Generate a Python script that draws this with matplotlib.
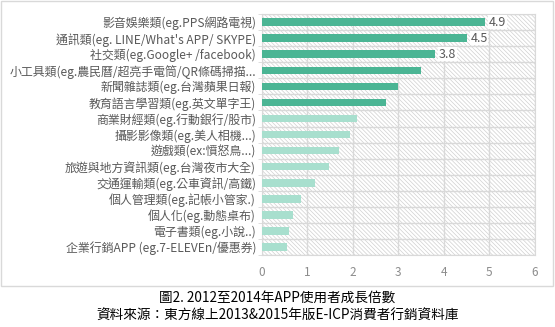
import matplotlib
matplotlib.use("Agg")
import matplotlib.pyplot as plt
from matplotlib.patches import Rectangle

plt.rcParams['font.family'] = ['Noto Sans CJK TC', 'DejaVu Sans']
plt.rcParams['hatch.linewidth'] = 0.5

# categories, top to bottom
categories = [
    '影音娛樂類(eg.PPS網路電視)',
    '通訊類(eg. LINE/What\'s APP/ SKYPE)',
    '社交類(eg.Google+ /facebook)',
    '小工具類(eg.農民曆/超亮手電筒/QR條碼掃描...',
    '新聞雜誌類(eg.台灣蘋果日報)',
    '教育語言學習類(eg.英文單字王)',
    '商業財經類(eg.行動銀行/股市)',
    '攝影影像類(eg.美人相機...)',
    '遊戲類(ex:憤怒鳥...)',
    '旅遊與地方資訊類(eg.台灣夜市大全)',
    '交通運輸類(eg.公車資訊/高鐵)',
    '個人管理類(eg.記帳小管家.)',
    '個人化(eg.動態桌布)',
    '電子書類(eg.小說..)',
    '企業行銷APP (eg.7-ELEVEn/優惠券)',
]
values = [4.9, 4.5, 3.8, 3.5, 3.0, 2.72, 2.1, 1.93, 1.7, 1.48, 1.17, 0.86, 0.69, 0.6, 0.55]
labeled = [True, True, True] + [False] * 12
top6 = 6

dark = '#4BB594'
light = '#A8DFCE'

fig = plt.figure(figsize=(5.55, 3.27), dpi=100)
ax = fig.add_axes([0.4715, 0.22, 0.4925, 0.737])

# chart frame
fig.add_artist(Rectangle((0.002, 0.126), 0.994, 0.871, transform=fig.transFigure,
                         fill=False, edgecolor='#d9d9d9', linewidth=1.0))

n = len(categories)
ypos = list(range(n))
colors = [dark if i < top6 else light for i in range(n)]

ax.set_xlim(0, 6)
ax.set_ylim(n - 0.5, -0.5)

# hatched background
ax.add_patch(Rectangle((0, 0), 1, 1, transform=ax.transAxes, facecolor='white',
                       edgecolor='#d0d0d0', hatch='\\' * 8, linewidth=0, zorder=0))

ax.barh(ypos, values, height=0.47, color=colors, zorder=3)

for i, v in enumerate(values):
    if labeled[i]:
        ax.text(v + 0.08, i, f'{v:.1f}', va='center', ha='left', fontsize=9,
                color='#595959', zorder=4,
                bbox=dict(facecolor='white', edgecolor='none', pad=0.5))

ax.set_yticks(ypos)
ax.set_yticklabels(categories, fontsize=8.6, color='#595959')
ax.set_yticks([i + 0.5 for i in range(-1, n)], minor=True)
ax.tick_params(axis='y', which='major', length=0, pad=4)
ax.tick_params(axis='y', which='minor', length=3, color='#d9d9d9')

ax.set_xticks(range(7))
ax.tick_params(axis='x', length=0, labelsize=8.5, labelcolor='#8c8c8c', pad=8)

ax.grid(axis='x', color='#d9d9d9', linewidth=1, zorder=1)
ax.grid(axis='y', which='minor', color='#d9d9d9', linewidth=1, zorder=1)
ax.set_axisbelow(True)
for s in ax.spines.values():
    s.set_color('#d9d9d9')

fig.text(0.5, 0.089, '圖2. 2012至2014年APP使用者成長倍數', ha='center', va='center',
         fontsize=9.8, color='black')
fig.text(0.5, 0.038, '資料來源：東方線上2013&2015年版E-ICP消費者行銷資料庫', ha='center',
         va='center', fontsize=9.8, color='black')

fig.savefig('out.png', dpi=100)
